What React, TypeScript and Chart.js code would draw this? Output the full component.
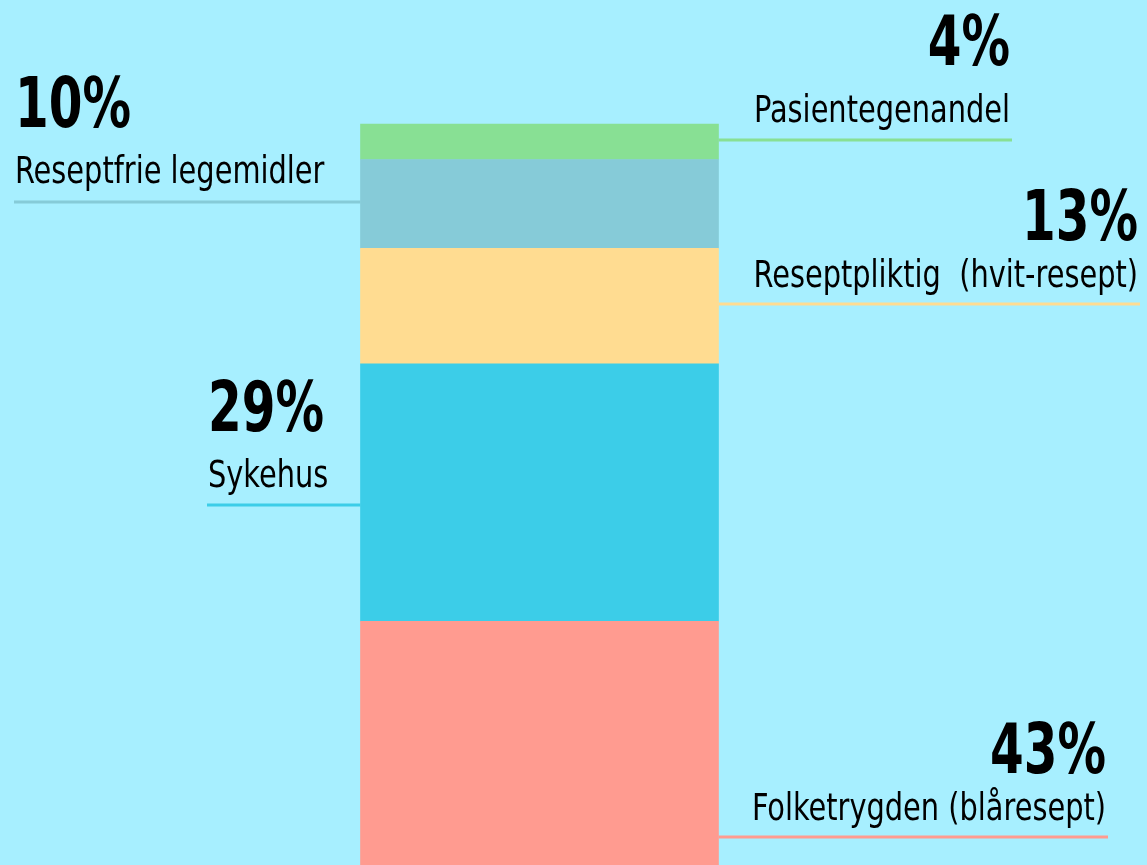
import React, { useEffect, useRef } from "react";
import { Chart, registerables } from "chart.js";

Chart.register(...registerables);

// Data (bottom to top of the stacked bar)
const categories = ["Legemidler"];
const seriesNames = [
  "Folketrygden (blåresept)",
  "Sykehus",
  "Reseptpliktig  (hvit-resept)",
  "Reseptfrie legemidler",
  "Pasientegenandel",
];
const seriesValues = [43, 29, 13, 10, 4];
const percentLabels = ["43%", "29%", "13%", "10%", "4%"];
const seriesColors = ["#ff9b90", "#3ccde8", "#ffdc91", "#86cbd8", "#88e094"];

// Annotation layout (styling only)
const labelLayout = [
  { side: "right", end: 1108, lineY: 837, labelDy: 17, pctDy: 64 },
  { side: "left", start: 207, lineY: 505, labelDy: 18, pctDy: 74 },
  { side: "right", end: 1140, lineY: 304, labelDy: 17, pctDy: 64 },
  { side: "left", start: 14, lineY: 202, labelDy: 19, pctDy: 75 },
  { side: "right", end: 1012, lineY: 140, labelDy: 18, pctDy: 75 },
];

const FONT = '"DejaVu Sans Condensed", "Liberation Sans Narrow", sans-serif';
const LABEL_SX = 0.866;
const PCT_SX = 0.77;

function drawScaled(ctx: any, text: string, x: number, y: number, sx: number) {
  ctx.save();
  ctx.translate(x, y);
  ctx.scale(sx, 1);
  ctx.fillText(text, 0, 0);
  ctx.restore();
}

const labelsPlugin = {
  id: "segLabels",
  afterDatasetsDraw(chart: any) {
    const ctx = chart.ctx;
    ctx.save();
    chart.data.datasets.forEach((ds: any, i: number) => {
      const meta = chart.getDatasetMeta(i);
      const el = meta.data[0];
      if (!el) return;
      const half = el.width / 2;
      const barLeft = el.x - half;
      const barRight = el.x + half;
      const lay = labelLayout[i];
      const y = lay.lineY;
      ctx.strokeStyle = seriesColors[i];
      ctx.lineWidth = 3;
      ctx.beginPath();
      let textX: number;
      if (lay.side === "left") {
        ctx.moveTo(lay.start!, y);
        ctx.lineTo(barLeft, y);
        ctx.textAlign = "left";
        textX = lay.start! + 1;
      } else {
        ctx.moveTo(barRight, y);
        ctx.lineTo(lay.end!, y);
        ctx.textAlign = "right";
        textX = lay.end! - 2;
      }
      ctx.stroke();
      ctx.fillStyle = "#000";
      ctx.textBaseline = "alphabetic";
      ctx.font = `37px ${FONT}`;
      drawScaled(ctx, seriesNames[i], textX, y - lay.labelDy, LABEL_SX);
      ctx.font = `bold 70px ${FONT}`;
      drawScaled(ctx, percentLabels[i], textX, y - lay.pctDy, PCT_SX);
    });
    ctx.restore();
  },
};

export default function App() {
  const canvasRef = useRef<HTMLCanvasElement | null>(null);

  useEffect(() => {
    document.body.style.margin = "0";
    const canvas = canvasRef.current;
    if (!canvas) return;
    const chart = new Chart(canvas, {
      type: "bar",
      data: {
        labels: categories,
        datasets: seriesNames.map((name, i) => ({
          label: name,
          data: [seriesValues[i]],
          backgroundColor: seriesColors[i],
          borderWidth: 0,
          barThickness: 358,
        })),
      },
      options: {
        responsive: false,
        animation: false,
        layout: { padding: { left: 0, right: 68, top: 0, bottom: 0 } },
        plugins: {
          legend: { display: false },
          tooltip: { enabled: false },
        },
        scales: {
          x: { stacked: true, display: false },
          y: { stacked: true, display: false, min: 15.55, max: 112.96 },
        },
      },
      plugins: [labelsPlugin],
    });
    return () => chart.destroy();
  }, []);

  return (
    <div
      style={{
        position: "absolute",
        left: 0,
        top: 0,
        width: 1147,
        height: 865,
        background: "#a7efff",
        overflow: "hidden",
      }}
    >
      <canvas ref={canvasRef} width={1147} height={865} style={{ display: "block" }} />
    </div>
  );
}
